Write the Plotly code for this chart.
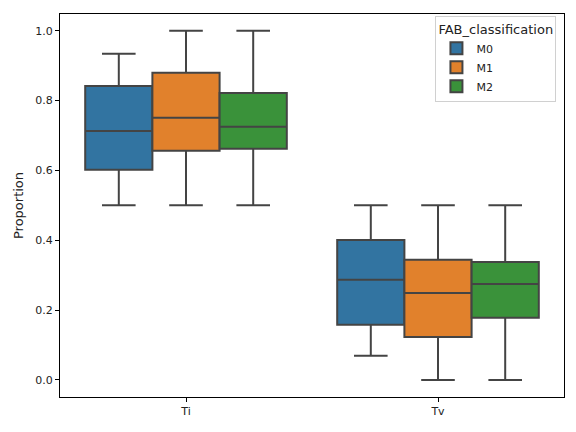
import plotly.graph_objects as go

categories = ["Ti", "Tv"]
groups = ["M0", "M1", "M2"]
colors = ["#3274a1", "#e1812c", "#3a923a"]

lower = {"M0": [0.50, 0.069], "M1": [0.50, 0.0], "M2": [0.50, 0.0]}
q1 = {"M0": [0.602, 0.158], "M1": [0.656, 0.123], "M2": [0.662, 0.178]}
median = {"M0": [0.713, 0.287], "M1": [0.751, 0.249], "M2": [0.725, 0.275]}
q3 = {"M0": [0.842, 0.401], "M1": [0.880, 0.344], "M2": [0.822, 0.338]}
upper = {"M0": [0.934, 0.50], "M1": [1.0, 0.50], "M2": [1.0, 0.50]}

fig = go.Figure()
for g, c in zip(groups, colors):
    fig.add_trace(go.Box(
        x=categories, name=g,
        q1=q1[g], median=median[g], q3=q3[g],
        lowerfence=lower[g], upperfence=upper[g],
        fillcolor=c, line=dict(color="#444444", width=2),
        whiskerwidth=0.5, boxpoints=False,
    ))

fig.update_layout(
    width=576, height=432,
    margin=dict(l=60, r=12, t=14, b=35),
    plot_bgcolor="white", paper_bgcolor="white",
    boxmode="group", boxgap=0.2, boxgroupgap=0.0,
    font=dict(family="DejaVu Sans", size=11, color="#222222"),
    legend=dict(
        title=dict(text="FAB_classification", side="top"),
        x=0.985, xanchor="right", y=0.995, yanchor="top",
        bordercolor="#d0d0d0", borderwidth=1, bgcolor="white",
        font=dict(size=11),
    ),
)
fig.update_xaxes(
    type="category", range=[-0.5, 1.5],
    showline=True, linecolor="black", linewidth=1, mirror=True,
    ticks="outside", ticklen=4, tickcolor="black", showgrid=False,
)
fig.update_yaxes(
    range=[-0.049, 1.048], tickvals=[0.0, 0.2, 0.4, 0.6, 0.8, 1.0],
    tickformat=".1f",
    title=dict(text="Proportion", standoff=8),
    showline=True, linecolor="black", linewidth=1, mirror=True,
    ticks="outside", ticklen=4, tickcolor="black", showgrid=False, zeroline=False,
)

fig.write_html("out.html")
